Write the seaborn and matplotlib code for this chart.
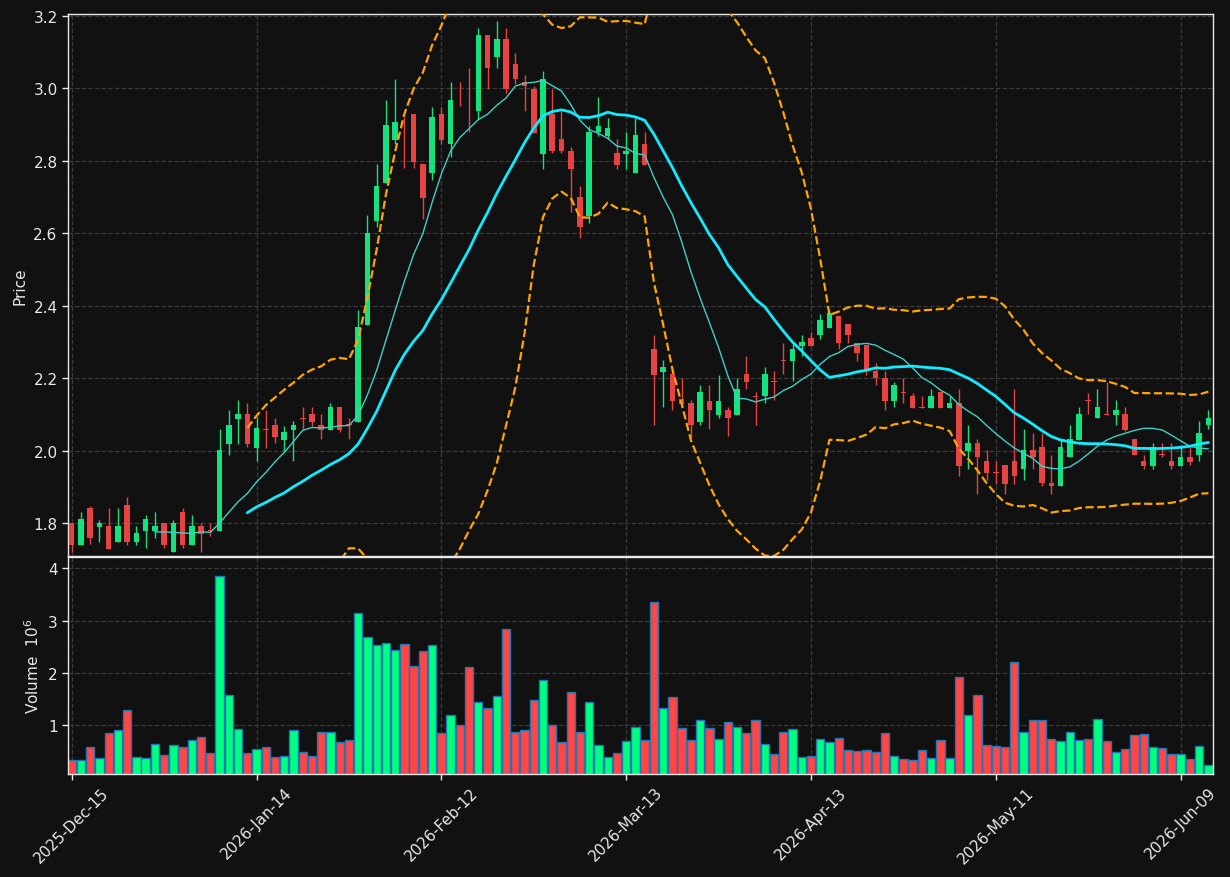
import numpy as np
import pandas as pd
import seaborn as sns
import matplotlib
matplotlib.use('Agg')
import matplotlib.pyplot as plt

# daily OHLC (one row per trading day)
opens = [1.80, 1.74, 1.841, 1.79, 1.792, 1.748, 1.85, 1.748, 1.779, 1.779,
         1.80, 1.719, 1.83, 1.74, 1.792, 1.78, 1.779, 2.019, 2.088, 2.101,
         2.008, 2.06, 2.071, 2.029, 2.058, 2.09, 2.101, 2.071, 2.058, 2.12,
         2.072, 2.08, 2.346, 2.635, 2.739, 2.857, 2.891, 2.928, 2.79, 2.767,
         2.928, 2.846, 2.977, 2.977, 2.937, 3.148, 3.086, 3.136, 3.067, 3.017,
         2.999, 2.818, 2.928, 2.859, 2.828, 2.699, 2.648, 2.878, 2.868, 2.82,
         2.818, 2.767, 2.847, 2.279, 2.217, 2.211, 2.142, 2.131, 2.08, 2.138,
         2.099, 2.111, 2.099, 2.211, 2.15, 2.15, 2.192, 2.25, 2.247, 2.289,
         2.311, 2.319, 2.339, 2.371, 2.349, 2.298, 2.291, 2.221, 2.199, 2.138,
         2.162, 2.15, 2.12, 2.118, 2.161, 2.118, 2.131, 1.999, 2.02, 1.971,
         1.94, 1.96, 1.971, 1.95, 2.001, 2.009, 1.91, 1.901, 1.981, 2.03,
         2.139, 2.089, 2.101, 2.099, 2.10, 2.032, 1.971, 1.958, 1.99, 1.971,
         1.958, 1.981, 1.989, 2.07]
highs = [1.80, 1.83, 1.848, 1.809, 1.841, 1.841, 1.871, 1.791, 1.822, 1.83,
         1.80, 1.809, 1.841, 1.822, 1.80, 1.80, 2.06, 2.111, 2.139, 2.13,
         2.092, 2.113, 2.089, 2.069, 2.081, 2.119, 2.119, 2.10, 2.131, 2.12,
         2.089, 2.389, 2.65, 2.79, 2.968, 3.026, 2.921, 2.928, 2.79, 2.949,
         2.949, 3.017, 3.017, 3.057, 3.167, 3.148, 3.186, 3.167, 3.098, 3.036,
         3.007, 3.048, 2.998, 2.937, 2.839, 2.729, 2.897, 2.977, 2.918, 2.859,
         2.878, 2.918, 2.878, 2.32, 2.249, 2.228, 2.199, 2.14, 2.18, 2.18,
         2.209, 2.119, 2.199, 2.26, 2.161, 2.23, 2.219, 2.298, 2.298, 2.32,
         2.327, 2.378, 2.389, 2.371, 2.349, 2.298, 2.291, 2.241, 2.219, 2.19,
         2.199, 2.159, 2.15, 2.169, 2.161, 2.152, 2.169, 2.07, 2.033, 2.001,
         1.97, 1.96, 2.169, 2.059, 2.049, 2.049, 1.989, 2.03, 2.07, 2.119,
         2.159, 2.169, 2.188, 2.14, 2.119, 2.032, 1.989, 2.02, 2.02, 2.02,
         2.016, 2.011, 2.081, 2.111]
lows = [1.719, 1.74, 1.742, 1.749, 1.729, 1.748, 1.74, 1.74, 1.73, 1.76,
        1.731, 1.719, 1.73, 1.74, 1.719, 1.765, 1.779, 1.989, 2.019, 2.009,
        1.972, 2.008, 2.02, 1.999, 1.971, 2.059, 2.068, 2.031, 2.058, 2.05,
        2.031, 2.08, 2.346, 2.617, 2.739, 2.847, 2.779, 2.779, 2.638, 2.748,
        2.847, 2.809, 2.95, 2.878, 2.916, 2.999, 3.057, 2.988, 3.012, 2.937,
        2.876, 2.777, 2.822, 2.82, 2.659, 2.588, 2.629, 2.868, 2.859, 2.777,
        2.777, 2.767, 2.789, 2.07, 2.119, 2.111, 2.126, 2.035, 2.07, 2.059,
        2.089, 2.04, 2.099, 2.169, 2.07, 2.132, 2.14, 2.211, 2.192, 2.26,
        2.289, 2.308, 2.339, 2.279, 2.298, 2.248, 2.209, 2.18, 2.111, 2.119,
        2.131, 2.118, 2.118, 2.118, 2.118, 2.118, 1.929, 1.95, 1.88, 1.92,
        1.908, 1.88, 1.908, 1.92, 1.95, 1.901, 1.88, 1.901, 1.981, 2.03,
        2.10, 2.089, 2.099, 2.07, 2.054, 1.989, 1.95, 1.95, 1.981, 1.95,
        1.958, 1.96, 1.97, 2.059]
closes = [1.74, 1.811, 1.759, 1.80, 1.729, 1.792, 1.748, 1.772, 1.811, 1.792,
          1.74, 1.80, 1.74, 1.792, 1.77, 1.778, 2.002, 2.071, 2.101, 2.019,
          2.061, 2.058, 2.038, 2.05, 2.071, 2.088, 2.08, 2.058, 2.12, 2.058,
          2.07, 2.341, 2.60, 2.729, 2.899, 2.908, 2.889, 2.796, 2.698, 2.92,
          2.857, 2.969, 2.975, 2.975, 3.148, 3.055, 3.136, 2.998, 3.026, 3.005,
          2.876, 3.026, 2.827, 2.827, 2.777, 2.617, 2.878, 2.897, 2.889, 2.789,
          2.828, 2.87, 2.789, 2.209, 2.23, 2.138, 2.129, 2.07, 2.161, 2.111,
          2.138, 2.089, 2.169, 2.19, 2.149, 2.211, 2.19, 2.248, 2.279, 2.299,
          2.289, 2.36, 2.381, 2.297, 2.319, 2.268, 2.219, 2.199, 2.138, 2.18,
          2.16, 2.118, 2.118, 2.15, 2.118, 2.131, 1.958, 2.02, 1.981, 1.939,
          1.938, 1.908, 1.929, 2.001, 1.981, 1.91, 1.901, 2.009, 2.033, 2.10,
          2.137, 2.119, 2.099, 2.111, 2.058, 1.989, 1.958, 2.009, 1.988, 1.958,
          1.981, 1.968, 2.049, 2.089]
# volume in millions of shares
volumes = [0.32, 0.32, 0.577, 0.359, 0.846, 0.904, 1.288, 0.385, 0.359, 0.635,
           0.423, 0.615, 0.577, 0.712, 0.769, 0.462, 3.846, 1.577, 0.923, 0.462,
           0.538, 0.577, 0.385, 0.404, 0.904, 0.481, 0.404, 0.865, 0.865, 0.673,
           0.712, 3.154, 2.692, 2.538, 2.577, 2.442, 2.558, 2.135, 2.423, 2.538,
           0.846, 1.192, 1.0, 2.115, 1.442, 1.327, 1.558, 2.846, 0.865, 0.904,
           1.481, 1.865, 1.0, 0.673, 1.635, 0.865, 1.442, 0.615, 0.385, 0.462,
           0.692, 0.962, 0.712, 3.365, 1.327, 1.538, 0.942, 0.712, 1.096, 0.942,
           0.731, 1.058, 0.962, 0.846, 1.096, 0.635, 0.442, 0.865, 0.923, 0.385,
           0.404, 0.731, 0.673, 0.75, 0.519, 0.5, 0.519, 0.481, 0.846, 0.404,
           0.346, 0.327, 0.519, 0.365, 0.712, 0.365, 1.923, 1.192, 1.577, 0.615,
           0.596, 0.577, 2.212, 0.865, 1.096, 1.096, 0.731, 0.692, 0.865, 0.712,
           0.731, 1.115, 0.692, 0.481, 0.538, 0.808, 0.827, 0.577, 0.558, 0.442,
           0.442, 0.346, 0.596, 0.231]

tick_pos = [0, 20, 40, 60, 80, 100, 120]
tick_labels = ['2025-Dec-15', '2026-Jan-14', '2026-Feb-12', '2026-Mar-13',
               '2026-Apr-13', '2026-May-11', '2026-Jun-09']

BG = '#111111'
FG = '#e8e8e8'
UP = '#14e27f'
DOWN = '#e84343'
VOL_UP = '#00ff80'
VOL_DOWN = '#ff4545'

sns.set_theme(style='dark', rc={
    'figure.facecolor': BG, 'axes.facecolor': BG, 'savefig.facecolor': BG,
    'axes.edgecolor': FG, 'axes.labelcolor': FG, 'text.color': FG,
    'xtick.color': FG, 'ytick.color': FG, 'axes.grid': True,
    'grid.color': '#3a3a3a', 'grid.linestyle': '--', 'grid.linewidth': 0.9,
    'xtick.bottom': True, 'ytick.left': True,
})
plt.rcParams['font.family'] = ['DejaVu Sans']

df = pd.DataFrame({'open': opens, 'high': highs, 'low': lows,
                   'close': closes, 'volume': volumes})
df['idx'] = np.arange(len(df))
df['ma10'] = df['close'].rolling(10).mean()
df['ma20'] = df['close'].rolling(20).mean()
sd = df['close'].rolling(20).std()
df['bb_up'] = df['ma20'] + 2 * sd
df['bb_lo'] = df['ma20'] - 2 * sd
up = df['close'] >= df['open']

fig = plt.figure(figsize=(12.3, 8.78), dpi=100)
ax1 = fig.add_axes([68 / 1230, 1 - 557 / 878, 1145 / 1230, 542 / 878])
ax2 = fig.add_axes([68 / 1230, 1 - 775 / 878, 1145 / 1230, 217 / 878], sharex=ax1)

# candles
wick_col = np.where(up, UP, DOWN)
ax1.vlines(df['idx'], df['low'], df['high'], colors=wick_col, linewidth=1, zorder=2)
body_lo = np.minimum(df['open'], df['close'])
body_h = np.maximum(np.abs(df['close'] - df['open']), 0.002)
ax1.bar(df['idx'], body_h, bottom=body_lo, width=0.6, color=wick_col,
        linewidth=0, zorder=3)

# indicators
sns.lineplot(data=df, x='idx', y='ma10', ax=ax1, color='#3fcfc6', linewidth=1, zorder=4)
sns.lineplot(data=df, x='idx', y='ma20', ax=ax1, color='#10ecff', linewidth=2, zorder=4)
for col in ['bb_up', 'bb_lo']:
    sns.lineplot(data=df, x='idx', y=col, ax=ax1, color='#ffa500',
                 linewidth=1.6, linestyle='--', zorder=4)

ax1.set_xlim(-0.4, 123.5)
ax1.set_ylim(1.709, 3.205)
ax1.set_yticks(np.arange(1.8, 3.21, 0.2))
ax1.set_yticklabels([f'{v:.1f}' for v in np.arange(1.8, 3.21, 0.2)], fontsize=11)
ax1.set_ylabel('Price', fontsize=11)
ax1.set_xlabel('')
ax1.tick_params(axis='x', bottom=False, labelbottom=False)
ax1.tick_params(axis='y', length=4, width=1)

# volume
ax2.bar(df['idx'], df['volume'], width=0.9,
        color=np.where(up, VOL_UP, VOL_DOWN), edgecolor='#1f77b4', linewidth=1)
ax2.set_ylim(0.058, 4.22)
ax2.set_yticks([1, 2, 3, 4])
ax2.set_yticklabels(['1', '2', '3', '4'], fontsize=11)
ax2.set_ylabel('Volume  $10^{6}$', fontsize=11)
ax2.set_xticks(tick_pos)
ax2.set_xticklabels(tick_labels, rotation=45, ha='center', fontsize=11)
ax2.tick_params(axis='both', length=4, width=1)

for ax in (ax1, ax2):
    ax.grid(True, color='#3a3a3a', linestyle='--', linewidth=0.9)
    for s in ax.spines.values():
        s.set_color(FG)
        s.set_linewidth(1)

fig.savefig('out.png', dpi=100, facecolor=BG)
